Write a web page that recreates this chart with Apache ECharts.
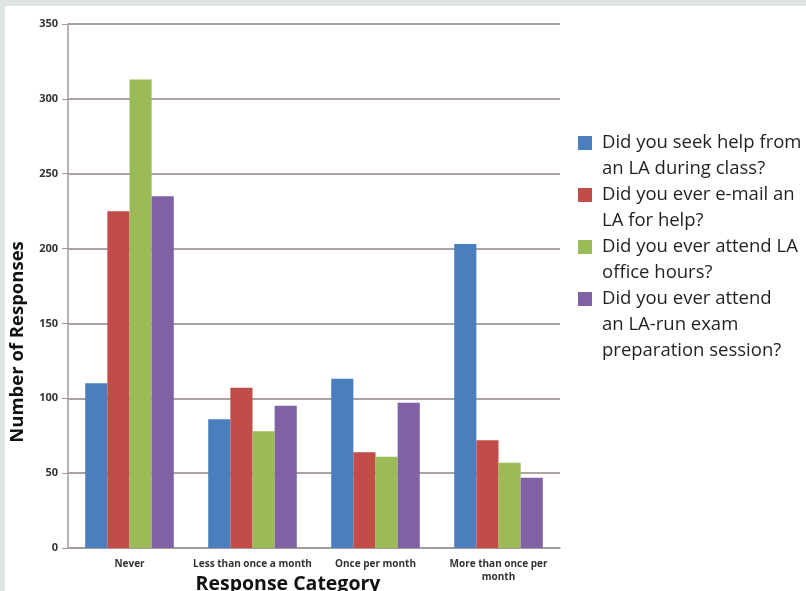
<!DOCTYPE html>
<html>
<head>
<meta charset="utf-8">
<script src="https://cdn.jsdelivr.net/npm/echarts@6/dist/echarts.min.js"></script>
<style>
  html, body { margin: 0; padding: 0; background: #dfe5e5; }
  .frame { position: absolute; left: 5px; top: 6px; width: 801px; height: 585px; background: #fff; }
  #chart { position: absolute; left: 0; top: 0; width: 806px; height: 591px; }
</style>
</head>
<body>
<div class="frame"></div>
<div id="chart"></div>
<script>
// 数据
const categories = ['Never', 'Less than once a month', 'Once per month', 'More than once per\nmonth'];
const seriesNames = [
  'Did you seek help from\nan LA during class?',
  'Did you ever e-mail an\nLA for help?',
  'Did you ever attend LA\noffice hours?',
  'Did you ever attend\nan LA-run exam\npreparation session?'
];
const duringClass = [110, 86, 113, 203];
const emailLA = [225, 107, 64, 72];
const officeHours = [313, 78, 61, 57];
const examSession = [235, 95, 97, 47];
const yTicks = [0, 50, 100, 150, 200, 250, 300, 350];

const colors = ['#4a7ebf', '#c24c48', '#9bbb56', '#7f61a4'];
const seriesValues = [duringClass, emailLA, officeHours, examSession];

var myChart = echarts.init(document.getElementById('chart'));

// 图例用 graphic 画，因为文字是多行的
const legendItems = [];
const lineH = 26;
let cy = 143; // 每项第一行的中心
seriesNames.forEach(function (name, i) {
  const lines = name.split('\n').length;
  legendItems.push({
    type: 'rect',
    shape: { x: 578, y: cy - 7, width: 14, height: 14 },
    style: { fill: colors[i] }
  });
  legendItems.push({
    type: 'text',
    x: 602,
    y: cy - lineH / 2,
    style: {
      text: name,
      fill: '#231f20',
      font: '18.5px "Open Sans"',
      lineHeight: lineH
    }
  });
  cy += lines * lineH;
});

const option = {
  animation: false,
  color: colors,
  grid: { left: 68, top: 24, right: 246, bottom: 43 },
  xAxis: {
    type: 'category',
    data: categories,
    axisLine: { lineStyle: { color: '#a3999a', width: 1.5 } },
    axisTick: { length: 5, lineStyle: { color: '#a3999a' } },
    axisLabel: {
      fontSize: 10,
      fontWeight: 'bold',
      color: '#333',
      margin: 10,
      fontFamily: 'Open Sans',
      lineHeight: 13,
      interval: 0
    }
  },
  yAxis: {
    type: 'value',
    min: 0,
    max: yTicks[yTicks.length - 1],
    interval: 50,
    axisLine: { show: true, lineStyle: { color: '#a3999a', width: 1.5 } },
    axisTick: { show: true, length: 6, lineStyle: { color: '#a3999a' } },
    splitLine: { lineStyle: { color: '#aca2a1', width: 1.8 } },
    axisLabel: {
      fontSize: 11,
      fontWeight: 'bold',
      color: '#333',
      margin: 10,
      fontFamily: 'Open Sans'
    }
  },
  series: seriesValues.map(function (vals, i) {
    return {
      name: seriesNames[i],
      type: 'bar',
      data: vals,
      barGap: '0%',
      barCategoryGap: '28%'
    };
  }),
  graphic: legendItems.concat([
    {
      type: 'text',
      x: 18,
      y: 342,
      rotation: Math.PI / 2,
      style: {
        text: 'Number of Responses',
        font: 'bold 18.5px "Open Sans"',
        fill: '#111',
        align: 'center',
        verticalAlign: 'middle'
      }
    },
    {
      type: 'text',
      x: 288,
      y: 584,
      style: {
        text: 'Response Category',
        font: 'bold 19.5px "Open Sans"',
        fill: '#111',
        align: 'center',
        verticalAlign: 'middle'
      }
    }
  ])
};
myChart.setOption(option);
</script>
</body>
</html>
